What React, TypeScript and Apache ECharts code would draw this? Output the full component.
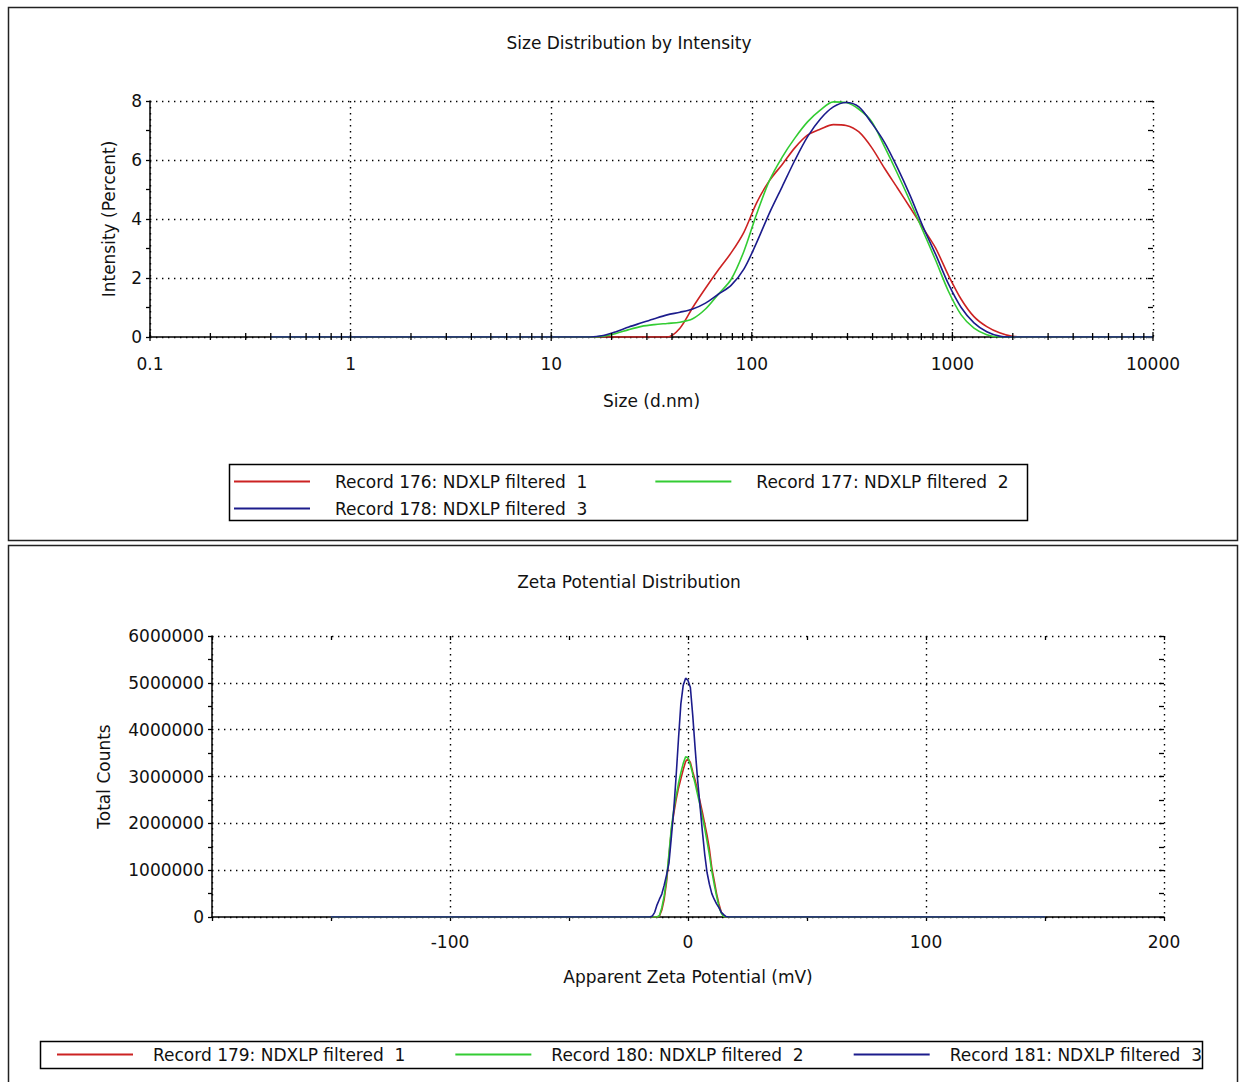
import React, { useEffect, useRef } from "react";
import * as echarts from "echarts";

// ---------- Size distribution (d.nm) ----------
const sizeNm = [
  0.4, 0.4632, 0.5365, 0.6213, 0.7195, 0.8332, 0.9649, 1.117, 1.294, 1.499,
  1.736, 2.01, 2.328, 2.696, 3.122, 3.615, 4.187, 4.849, 5.615, 6.503,
  7.531, 8.721, 10.1, 11.7, 13.54, 15.69, 18.17, 21.04, 24.36, 28.21,
  32.67, 37.84, 43.82, 50.75, 58.77, 68.06, 78.82, 91.28, 105.7, 122.4,
  141.8, 164.2, 190.1, 220.2, 255.0, 295.3, 342.0, 396.1, 458.7, 531.2,
  615.1, 712.4, 825.0, 955.4, 1106, 1281, 1484, 1718, 1990, 2305,
  2669, 3091, 3580, 4145, 4801, 5560, 6439, 7456, 8635, 10000,
];

const rec176 = [
  0, 0, 0, 0, 0, 0, 0, 0, 0, 0,
  0, 0, 0, 0, 0, 0, 0, 0, 0, 0,
  0, 0, 0, 0, 0, 0, 0, 0, 0, 0,
  0, 0, 0.3, 1.0, 1.65, 2.27, 2.85, 3.55, 4.55, 5.3,
  5.85, 6.42, 6.85, 7.05, 7.2, 7.17, 6.95, 6.42, 5.72, 5.06,
  4.39, 3.7, 3.01, 2.09, 1.28, 0.69, 0.35, 0.14, 0.02, 0,
  0, 0, 0, 0, 0, 0, 0, 0, 0, 0,
];

const rec177 = [
  0, 0, 0, 0, 0, 0, 0, 0, 0, 0,
  0, 0, 0, 0, 0, 0, 0, 0, 0, 0,
  0, 0, 0, 0, 0, 0, 0.03, 0.12, 0.25, 0.36,
  0.42, 0.46, 0.5, 0.62, 0.95, 1.45, 1.95, 2.9, 4.17, 5.3,
  6.1, 6.75, 7.3, 7.7, 7.97, 7.95, 7.72, 7.3, 6.45, 5.55,
  4.6, 3.6, 2.6, 1.55, 0.75, 0.3, 0.08, 0, 0, 0,
  0, 0, 0, 0, 0, 0, 0, 0, 0, 0,
];

const rec178 = [
  0, 0, 0, 0, 0, 0, 0, 0, 0, 0,
  0, 0, 0, 0, 0, 0, 0, 0, 0, 0,
  0, 0, 0, 0, 0, 0, 0.05, 0.18, 0.34, 0.48,
  0.62, 0.75, 0.84, 0.95, 1.15, 1.45, 1.75, 2.3, 3.2, 4.2,
  5.1, 6.0, 6.8, 7.4, 7.8, 7.95, 7.8, 7.25, 6.6, 5.75,
  4.8, 3.75, 2.8, 1.8, 1.0, 0.48, 0.18, 0.03, 0, 0,
  0, 0, 0, 0, 0, 0, 0, 0, 0, 0,
];

const sizeDecades = [0.1, 1, 10, 100, 1000, 10000];
const sizeMinorSteps = [2, 3, 4, 5, 6, 7, 8, 9];

// ---------- Zeta potential (mV) ----------
const zetaMv = [
  -150, -16, -15, -14, -13, -12, -11, -10, -9, -8, -7, -6, -5, -4, -3, -2, -1,
  0, 1, 2, 3, 4, 5, 6, 7, 8, 9, 10, 11, 12, 13, 14, 15, 16, 17, 150,
];

const rec179 = [
  0, 0, 0, 0, 0, 20000, 150000, 380000, 750000, 1300000, 1850000, 2200000, 2500000, 2750000, 2950000, 3150000, 3320000,
  3380000, 3300000, 3100000, 2920000, 2700000, 2480000, 2250000, 2000000, 1750000, 1450000, 1050000, 780000, 500000, 280000, 100000, 20000, 0, 0, 0,
];

const rec180 = [
  0, 0, 0, 0, 0, 30000, 200000, 450000, 820000, 1350000, 1900000, 2280000, 2580000, 2850000, 3080000, 3280000, 3420000,
  3400000, 3250000, 3050000, 2850000, 2620000, 2400000, 2150000, 1900000, 1620000, 1320000, 980000, 700000, 450000, 220000, 80000, 10000, 0, 0, 0,
];

const rec181 = [
  0, 0, 20000, 100000, 260000, 380000, 490000, 680000, 900000, 1150000, 1700000, 2280000, 3000000, 3800000, 4550000, 4950000, 5100000,
  5050000, 4900000, 4300000, 3600000, 2950000, 2400000, 1850000, 1350000, 950000, 700000, 500000, 380000, 280000, 200000, 100000, 50000, 10000, 0, 0,
];

const names = [
  "Record 176: NDXLP filtered  1",
  "Record 177: NDXLP filtered  2",
  "Record 178: NDXLP filtered  3",
  "Record 179: NDXLP filtered  1",
  "Record 180: NDXLP filtered  2",
  "Record 181: NDXLP filtered  3",
];
const colors = ["#cc2222", "#33cc33", "#1c1c8c"];

const FONT = "DejaVu Sans";
const TXT = { color: "#111", fontFamily: FONT, fontSize: 17 };
const DOTTED = { color: "#000", width: 1.4, type: [1.4, 4.6] as number[] };
const AXLINE = { lineStyle: { color: "#000", width: 1.5 } };
const TICKSTYLE = { color: "#000", width: 1.3 };

function buildOption() {
  const tickVals: number[][] = [];
  sizeDecades.forEach((d, i) => {
    tickVals.push([d, 1]);
    if (i < sizeDecades.length - 1) sizeMinorSteps.forEach((m) => tickVals.push([d * m, 0]));
  });

  const lineSeries = (name: string, color: string, xs: number[], ys: number[], gi: number, smooth: number) => ({
    type: "line",
    name,
    xAxisIndex: gi,
    yAxisIndex: gi,
    data: xs.map((x, i) => [x, ys[i]]),
    showSymbol: false,
    symbol: "none",
    smooth,
    color,
    lineStyle: { color, width: 1.6 },
    z: 3,
  });

  const legendBase = {
    orient: "horizontal",
    icon: "rect",
    itemWidth: 76,
    itemHeight: 2,
    padding: 0,
    selectedMode: false,
  };

  return {
    animation: false,
    backgroundColor: "#fff",
    title: [
      { text: "Size Distribution by Intensity", left: 629, top: 34, textAlign: "center", padding: 0, textStyle: { ...TXT, fontWeight: "normal" } },
      { text: "Zeta Potential Distribution", left: 629, top: 573, textAlign: "center", padding: 0, textStyle: { ...TXT, fontWeight: "normal" } },
    ],
    grid: [
      { left: 150, top: 101, width: 1003, height: 236 },
      { left: 212, top: 636, width: 952, height: 281 },
    ],
    xAxis: [
      {
        type: "log", logBase: 10, gridIndex: 0, min: 0.1, max: 10000,
        axisLine: { ...AXLINE, onZero: false }, axisTick: { show: false },
        axisLabel: { ...TXT, margin: 18, formatter: (v: number) => (v < 1 ? Number(v).toFixed(1) : String(Math.round(v))) },
        splitLine: { show: true, lineStyle: DOTTED },
        name: "Size (d.nm)", nameLocation: "middle", nameGap: 55, nameTextStyle: TXT,
      },
      {
        type: "value", gridIndex: 1, min: -200, max: 200, interval: 100,
        axisLine: { ...AXLINE, onZero: false },
        axisTick: { show: true, length: 4, lineStyle: TICKSTYLE },
        minorTick: { show: true, splitNumber: 2, length: 4, lineStyle: TICKSTYLE },
        axisLabel: { ...TXT, margin: 16, formatter: (v: number) => (v === -200 ? "" : String(v)) },
        splitLine: { show: true, lineStyle: DOTTED },
        name: "Apparent Zeta Potential (mV)", nameLocation: "middle", nameGap: 51, nameTextStyle: TXT,
      },
      {
        type: "value", gridIndex: 1, min: -200, max: 200, interval: 100,
        axisLine: { show: false, onZero: false }, axisLabel: { show: false }, splitLine: { show: false },
        axisTick: { show: true, inside: true, length: 4, lineStyle: TICKSTYLE },
        minorTick: { show: true, splitNumber: 2, length: 4, lineStyle: TICKSTYLE },
      },
    ],
    yAxis: [
      {
        type: "value", gridIndex: 0, min: 0, max: 8, interval: 2,
        axisLine: { show: true, onZero: false, ...AXLINE },
        axisTick: { show: true, length: 4, lineStyle: TICKSTYLE },
        minorTick: { show: true, splitNumber: 2, length: 4, lineStyle: TICKSTYLE },
        axisLabel: { ...TXT, margin: 8 },
        splitLine: { show: true, lineStyle: DOTTED },
        name: "Intensity (Percent)", nameLocation: "middle", nameGap: 33, nameTextStyle: TXT,
      },
      {
        type: "value", gridIndex: 1, min: 0, max: 6000000, interval: 1000000,
        axisLine: { show: true, onZero: false, ...AXLINE },
        axisTick: { show: true, length: 4, lineStyle: TICKSTYLE },
        minorTick: { show: true, splitNumber: 2, length: 4, lineStyle: TICKSTYLE },
        axisLabel: { ...TXT, margin: 8, formatter: (v: number) => String(v) },
        splitLine: { show: true, lineStyle: DOTTED },
        name: "Total Counts", nameLocation: "middle", nameGap: 100, nameTextStyle: TXT,
      },
      {
        type: "value", gridIndex: 0, min: 0, max: 8, interval: 2,
        axisLine: { show: false, onZero: false }, axisLabel: { show: false }, splitLine: { show: false },
        axisTick: { show: true, inside: true, length: 5, lineStyle: TICKSTYLE },
        minorTick: { show: true, splitNumber: 2, length: 5, lineStyle: TICKSTYLE },
      },
      {
        type: "value", gridIndex: 1, min: 0, max: 6000000, interval: 1000000,
        axisLine: { show: false, onZero: false }, axisLabel: { show: false }, splitLine: { show: false },
        axisTick: { show: true, inside: true, length: 5, lineStyle: TICKSTYLE },
        minorTick: { show: true, splitNumber: 2, length: 5, lineStyle: TICKSTYLE },
      },
    ],
    legend: [
      { ...legendBase, data: [names[0], names[1]], left: 234, top: 473, itemGap: 68, textStyle: { ...TXT, padding: [0, 0, 0, 20] } },
      { ...legendBase, data: [names[2]], left: 234, top: 500, itemGap: 20, textStyle: { ...TXT, padding: [0, 0, 0, 20] } },
      { ...legendBase, data: [names[3], names[4], names[5]], left: 57, top: 1046, itemGap: 50, textStyle: { ...TXT, padding: [0, 0, 0, 15] } },
    ],
    graphic: [
      { type: "rect", silent: true, shape: { x: 8.5, y: 7.5, width: 1229, height: 533 }, style: { fill: "none", stroke: "#222", lineWidth: 1.5 } },
      { type: "rect", silent: true, shape: { x: 8.5, y: 545.5, width: 1229, height: 560 }, style: { fill: "none", stroke: "#222", lineWidth: 1.5 } },
      { type: "rect", silent: true, shape: { x: 229.5, y: 464.5, width: 798, height: 56 }, style: { fill: "none", stroke: "#000", lineWidth: 1.5 } },
      { type: "rect", silent: true, shape: { x: 40.5, y: 1041.5, width: 1162, height: 27 }, style: { fill: "none", stroke: "#000", lineWidth: 1.5 } },
    ],
    series: [
      lineSeries(names[0], colors[0], sizeNm, rec176, 0, 0.3),
      lineSeries(names[1], colors[1], sizeNm, rec177, 0, 0.3),
      lineSeries(names[2], colors[2], sizeNm, rec178, 0, 0.3),
      lineSeries(names[3], colors[0], zetaMv, rec179, 1, 0),
      lineSeries(names[4], colors[1], zetaMv, rec180, 1, 0),
      lineSeries(names[5], colors[2], zetaMv, rec181, 1, 0),
      {
        type: "custom",
        xAxisIndex: 0,
        yAxisIndex: 0,
        clip: false,
        silent: true,
        z: 4,
        data: tickVals,
        renderItem: (_p: any, api: any) => {
          const pt = api.coord([api.value(0), 0]);
          const major = api.value(1) === 1;
          return {
            type: "line",
            shape: { x1: pt[0], y1: pt[1] - (major ? 5 : 4), x2: pt[0], y2: pt[1] + (major ? 4 : 3) },
            style: { stroke: "#000", lineWidth: 1.3 },
          };
        },
      },
    ],
  };
}

export default function App() {
  const ref = useRef<HTMLDivElement>(null);
  useEffect(() => {
    if (!ref.current) return;
    const chart = echarts.init(ref.current, null, { renderer: "svg" });
    chart.setOption(buildOption() as any);
    return () => chart.dispose();
  }, []);
  return (
    <div
      ref={ref}
      style={{ position: "absolute", left: 0, top: 0, width: 1239, height: 1082, background: "#fff" }}
    />
  );
}
